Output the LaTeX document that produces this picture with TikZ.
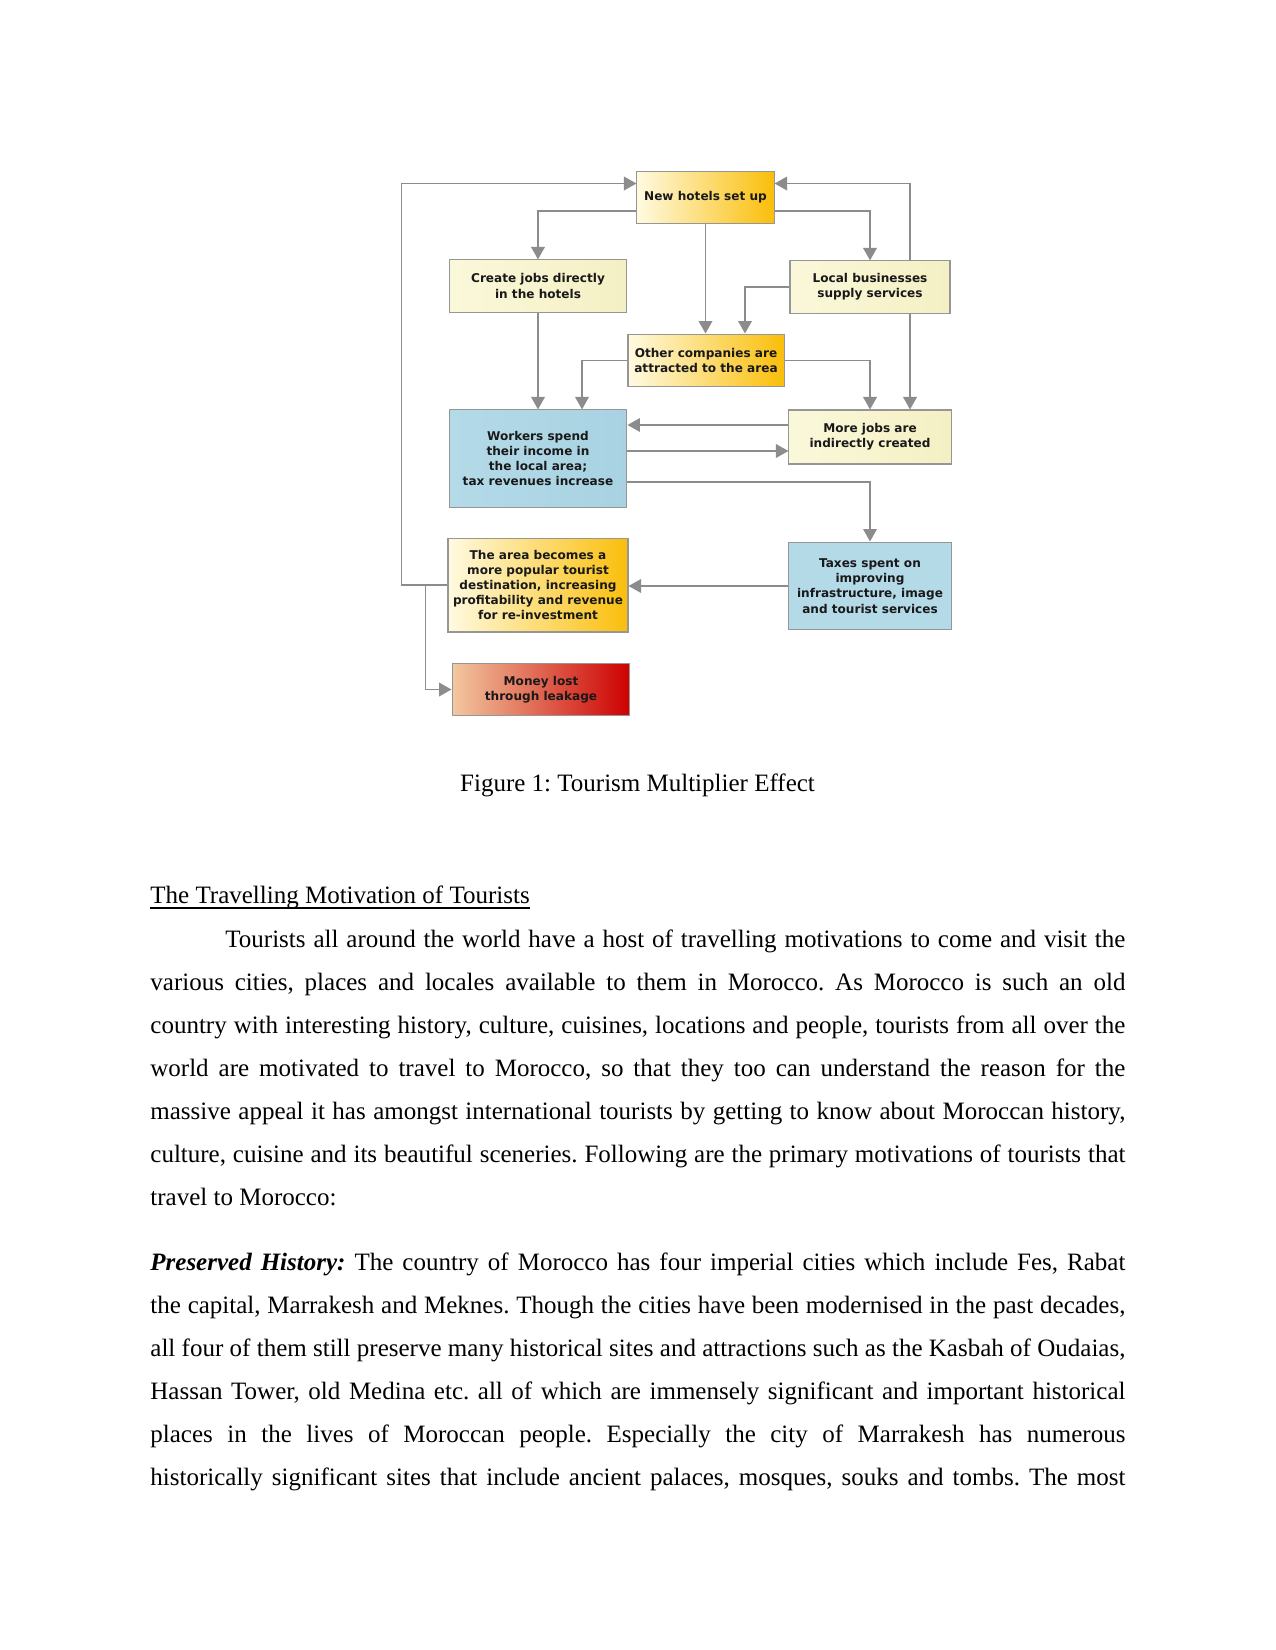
\documentclass[tikz,border=0pt]{standalone}
\usepackage{fontspec}
\setmainfont{Liberation Serif}
\newfontfamily\boxfont{DejaVu Sans}
\usetikzlibrary{arrows.meta,calc}
\frenchspacing
\definecolor{linegray}{RGB}{140,140,140}
\definecolor{boxborder}{RGB}{150,150,150}
\definecolor{boxtext}{RGB}{25,25,25}
\definecolor{gold}{RGB}{250,190,10}
\definecolor{cream}{RGB}{255,250,225}
\definecolor{paleA}{RGB}{250,248,218}
\definecolor{paleB}{RGB}{244,240,196}
\definecolor{blueA}{RGB}{180,218,232}
\definecolor{blueM}{RGB}{208,234,243}
\definecolor{blueB}{RGB}{168,210,226}
\definecolor{peach}{RGB}{242,200,160}
\definecolor{redB}{RGB}{205,0,0}
\begin{document}
\begin{tikzpicture}[x=0.48pt,y=-0.48pt,
  box/.style={draw=boxborder, line width=0.5pt, align=center, inner sep=1pt,
    font=\boxfont\bfseries\fontsize{5.8}{7.3}\selectfont, text=boxtext},
  conn/.style={draw=linegray, line width=0.9pt, -{Triangle[length=6pt,width=6.5pt]}},
  body/.style={anchor=base west, inner sep=0pt, font=\fontsize{12}{14}\selectfont}
]
\useasboundingbox[fill=white] (0,0) rectangle (1275,1650);

% boxes
\node[box, minimum width=65.8pt, minimum height=25.4pt, left color=cream, right color=gold] (hotels) at (705.5,197.5) {New hotels set up};
\node[box, minimum width=85.4pt, minimum height=25pt, left color=paleA, right color=paleB] (jobs) at (538,286) {Create jobs directly\\in the hotels};
\node[box, minimum width=76.8pt, minimum height=25pt, left color=paleA, right color=paleB] (local) at (870,287) {Local businesses\\supply services};
\node[box, minimum width=74.9pt, minimum height=25.4pt, left color=cream, right color=gold] (other) at (706,360.5) {Other companies are\\attracted to the area};
\node[box, minimum width=85.4pt, minimum height=46.6pt, left color=blueA, middle color=blueM, right color=blueB] (workers) at (538,458.5) {Workers spend\\their income in\\the local area;\\tax revenues increase};
\node[box, minimum width=77.8pt, minimum height=25.9pt, left color=paleA, right color=paleB] (morejobs) at (870,437) {More jobs are\\indirectly created};
\node[box, minimum width=86.4pt, minimum height=45.1pt, left color=cream, right color=gold] (area) at (538,585) {The area becomes a\\more popular tourist\\destination, increasing\\profitability and revenue\\for re-investment};
\node[box, minimum width=77.8pt, minimum height=42.2pt, left color=blueA, middle color=blueM, right color=blueA] (taxes) at (870,586) {Taxes spent on\\improving\\infrastructure, image\\and tourist services};
\node[box, minimum width=85.4pt, minimum height=25.4pt, left color=peach, right color=redB] (money) at (541,689.5) {Money lost\\through leakage};

% connectors
\draw[conn] (hotels.west |- 0,211) -| (jobs.north);
\draw[conn] (hotels.east |- 0,211) -| (local.north);
\draw[conn] (hotels.south) -- (hotels.south |- other.north);
\draw[conn] (local.west) -| ($(other.north)+(39,0)$);
\draw[conn] (jobs.south) -- (workers.north);
\draw[conn] (other.west) -| ($(workers.north)+(44,0)$);
\draw[conn] (other.east) -| (morejobs.north);
\draw[conn] ($(local.south)+(40,0)$) -- ($(morejobs.north)+(40,0)$);
\draw[conn] ($(local.north)+(40,0)$) |- ($(hotels.north east)+(0,13)$);
\draw[conn] (area.west) -- ++(-46,0) |- ($(hotels.north west)+(0,13)$);
\draw[conn] ($(area.west)+(-22,0)$) |- (money.west);
\draw[conn] ($(morejobs.west)+(0,-12)$) -- ($(workers.east)+(0,-33.5)$);
\draw[conn] ($(workers.east)+(0,-7.5)$) -- ($(morejobs.west)+(0,14)$);
\draw[conn] ($(workers.east)+(0,23.5)$) -| (taxes.north);
\draw[conn] (taxes.west) -- (taxes.west -| area.east);

% caption and text
\node[anchor=base, inner sep=0pt, font=\fontsize{12}{14}\selectfont] (cap) at (637.5,791) {Figure 1: Tourism Multiplier Effect};
\node[body] (h1) at (150,903) {The Travelling Motivation of Tourists};
\draw[line width=0.75pt] ($(h1.base west)+(0,5)$) -- ($(h1.base east)+(0,5)$);
\node[body] (p1) at (225,947) {\makebox[432pt][s]{Tourists all around the world have a host of travelling motivations to come and visit the}};
\node[body] (p2) at (150,990) {\makebox[468pt][s]{various cities, places and locales available to them in Morocco. As Morocco is such an old}};
\node[body] (p3) at (150,1033) {\makebox[468pt][s]{country with interesting history, culture, cuisines, locations and people, tourists from all over the}};
\node[body] (p4) at (150,1076) {\makebox[468pt][s]{world are motivated to travel to Morocco, so that they too can understand the reason for the}};
\node[body] (p5) at (150,1119) {\makebox[468pt][s]{massive appeal it has amongst international tourists by getting to know about Moroccan history,}};
\node[body] (p6) at (150,1162) {\makebox[468pt][s]{culture, cuisine and its beautiful sceneries. Following are the primary motivations of tourists that}};
\node[body] (p7) at (150,1205) {travel to Morocco:};
\node[body] (q1) at (150,1270) {\makebox[468pt][s]{\textbf{\textit{Preserved History:}} The country of Morocco has four imperial cities which include Fes, Rabat}};
\node[body] (q2) at (150,1313) {\makebox[468pt][s]{the capital, Marrakesh and Meknes. Though the cities have been modernised in the past decades,}};
\node[body] (q3) at (150,1356) {\makebox[468pt][s]{all four of them still preserve many historical sites and attractions such as the Kasbah of Oudaias,}};
\node[body] (q4) at (150,1399) {\makebox[468pt][s]{Hassan Tower, old Medina etc. all of which are immensely significant and important historical}};
\node[body] (q5) at (150,1442) {\makebox[468pt][s]{places in the lives of Moroccan people. Especially the city of Marrakesh has numerous}};
\node[body] (q6) at (150,1485) {\makebox[468pt][s]{historically significant sites that include ancient palaces, mosques, souks and tombs. The most}};
\end{tikzpicture}
\end{document}
